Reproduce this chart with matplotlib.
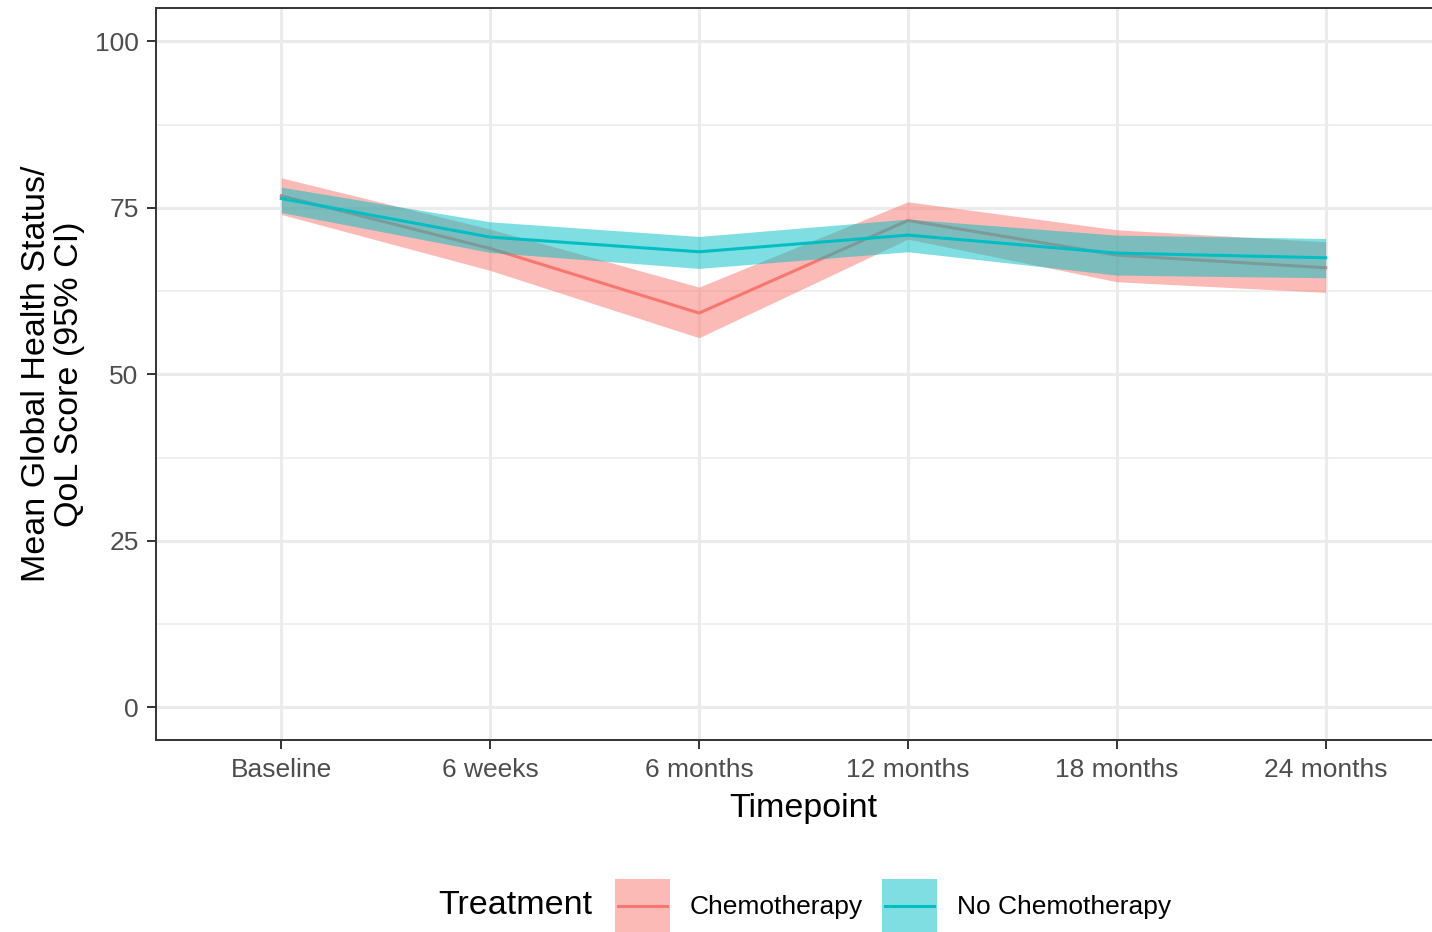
import numpy as np
import matplotlib.pyplot as plt
from matplotlib.patches import Rectangle
from matplotlib.lines import Line2D

plt.rcParams['font.family'] = ['Liberation Sans', 'DejaVu Sans']

timepoints = ["Baseline", "6 weeks", "6 months", "12 months", "18 months", "24 months"]

chemo_mean = [76.8, 68.9, 59.2, 73.1, 67.9, 66.0]
chemo_lo = [74.0, 65.6, 55.5, 70.3, 63.9, 62.3]
chemo_hi = [79.5, 71.8, 63.1, 75.9, 71.7, 69.9]

nochemo_mean = [76.4, 70.6, 68.4, 70.9, 68.2, 67.5]
nochemo_lo = [74.3, 68.3, 65.9, 68.4, 64.9, 64.5]
nochemo_hi = [78.1, 72.9, 70.7, 73.3, 70.9, 70.4]

red = "#F8766D"
teal = "#00BFC4"
grid_col = "#EBEBEB"
dark = "#333333"


class RibbonKey:
    # legend key: translucent box with the line across the middle
    def legend_artist(self, legend, orig_handle, fontsize, handlebox):
        x0, y0 = -handlebox.xdescent, -handlebox.ydescent
        w, h = handlebox.width, handlebox.height
        col = orig_handle.get_color()
        tr = handlebox.get_transform()
        rect = Rectangle((x0, y0), w, h, facecolor=col, alpha=0.5,
                         edgecolor='none', transform=tr)
        ln = Line2D([x0 + 2, x0 + w - 2], [y0 + h/2, y0 + h/2], color=col,
                    lw=2.2, transform=tr)
        handlebox.add_artist(rect)
        handlebox.add_artist(ln)
        return rect


fig = plt.figure(figsize=(14.32, 9.32), dpi=100)
ax = fig.add_axes([156/1432, 192/932, 1295/1432, 732/932])

x = np.arange(len(timepoints))

ax.fill_between(x, chemo_lo, chemo_hi, color=red, alpha=0.5, lw=0, zorder=3)
l1, = ax.plot(x, chemo_mean, color=red, lw=2.2, zorder=3)
ax.fill_between(x, nochemo_lo, nochemo_hi, color=teal, alpha=0.5, lw=0, zorder=4)
l2, = ax.plot(x, nochemo_mean, color=teal, lw=2.2, zorder=4)

ax.set_xlim(-0.6, len(timepoints) - 1 + 0.6)
ax.set_ylim(-4.9, 105)
ax.set_xticks(x)
ax.set_xticklabels(timepoints)
ax.set_yticks([0, 25, 50, 75, 100])
ax.set_yticks([12.5, 37.5, 62.5, 87.5], minor=True)

ax.grid(which='major', color=grid_col, lw=2.2, zorder=0)
ax.grid(which='minor', axis='y', color=grid_col, lw=1.1, zorder=0)
ax.set_axisbelow(True)

for s in ax.spines.values():
    s.set_color(dark)
    s.set_linewidth(1.4)
ax.tick_params(which='major', length=6.5, width=1.4, color=dark,
               labelcolor="#4D4D4D", labelsize=19, pad=6.5)
ax.tick_params(axis='y', pad=6)
ax.tick_params(which='minor', length=0)

ax.set_xlabel("Timepoint", fontsize=24.5)
ax.xaxis.set_label_coords(0.5, -0.0935)
ax.xaxis.label.set_va('center')
ax.set_ylabel("Mean Global Health Status/\nQoL Score (95% CI)", fontsize=24.5,
              linespacing=1.1)
ax.yaxis.set_label_coords(-0.0795, 0.5)
ax.yaxis.label.set_va('center')

fig.text(438/1432, (932-906)/932, "Treatment", fontsize=24.5, ha='left', va='center')

fig.legend([l1, l2], ["Chemotherapy", "No Chemotherapy"], ncol=2,
           handler_map={Line2D: RibbonKey()},
           loc='center left', bbox_to_anchor=(615/1432, (932-906)/932),
           frameon=False, fontsize=19, handlelength=2.08, handleheight=2.82,
           handletextpad=0.76, columnspacing=0.71, borderpad=0, borderaxespad=0)

fig.savefig("out.png", dpi=100)
